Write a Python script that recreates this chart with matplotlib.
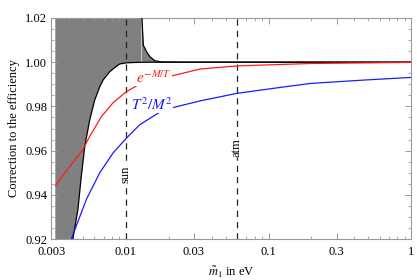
import numpy as np
import matplotlib
matplotlib.use('Agg')
import matplotlib.pyplot as plt
from matplotlib.ticker import FixedLocator, NullFormatter

plt.rcParams['font.family'] = ['Liberation Serif', 'DejaVu Serif']
plt.rcParams['mathtext.fontset'] = 'stix'

# lower boundary of the excluded (grey) region
low_x = [0.0032, 0.0042, 0.00425, 0.00461, 0.00487, 0.00515, 0.00558, 0.00605, 0.00656,
         0.00692, 0.00771, 0.0086, 0.00907, 0.0101, 0.012, 0.0128]
low_y = [0.90, 0.915, 0.920, 0.9334, 0.9484, 0.9619, 0.9739, 0.9829, 0.9889,
         0.9919, 0.9957, 0.9982, 0.9992, 0.9997, 0.9999, 0.99995]

# upper boundary of the excluded region
up_x = [0.0128, 0.01296, 0.01324, 0.01399, 0.01476, 0.016, 0.01783, 0.025, 1.0]
up_y = [1.03, 1.02, 1.0077, 1.0046, 1.0024, 1.0006, 1.0001, 1.0, 1.0]

# e^{-M/T} correction
red_x = [0.00321, 0.00403, 0.0050, 0.00558, 0.00674, 0.00814, 0.0101, 0.0125,
         0.0198, 0.0332, 0.0601, 0.198, 1.0]
red_y = [0.9443, 0.9527, 0.9605, 0.9665, 0.9754, 0.9817, 0.9867, 0.9901,
         0.9934, 0.9969, 0.9983, 0.9994, 0.9999]

# T^2/M^2 correction
blue_x = [0.0040, 0.00414, 0.00529, 0.00656, 0.00814, 0.0101, 0.0125, 0.0183,
          0.0332, 0.0601, 0.1215, 0.198, 0.465, 1.0]
blue_y = [0.915, 0.920, 0.938, 0.950, 0.959, 0.9657, 0.9717, 0.9784,
          0.9825, 0.9859, 0.9886, 0.9904, 0.9919, 0.9931]

mass_lines = [0.01, 0.06]
mass_names = ['sun', 'atm']
mass_label_y = [0.9493, 0.9614]

xticks = [0.003, 0.01, 0.03, 0.1, 0.3, 1]
xticklabels = ['0.003', '0.01', '0.03', '0.1', '0.3', '1']
yticks = [0.92, 0.94, 0.96, 0.98, 1.00, 1.02]

fig = plt.figure(figsize=(4.17, 2.8), dpi=100)
ax = fig.add_axes([0.123, 0.146, 0.863, 0.79])

ax.set_xscale('log')
ax.set_xlim(0.003, 1.0)
ax.set_ylim(0.92, 1.02)

# grey region: left of the lower boundary up to the top, then under the upper boundary
ax.fill_between(low_x, low_y, 1.03, color='#808080', lw=0, zorder=1)
ax.fill_between(up_x, 0.9995, up_y, color='#808080', lw=0, zorder=1)
ax.fill_between([0.0125, 1.0], 0.99, 0.99995, color='white', lw=0, zorder=1.5)
ax.plot(low_x + up_x[-2:], low_y + up_y[-2:], color='k', lw=0.9, zorder=3)
ax.plot(up_x, up_y, color='k', lw=0.9, zorder=3)

ax.plot(red_x, red_y, color='#ff1a1a', lw=0.9, zorder=4)
ax.plot(blue_x, blue_y, color='#1a1aff', lw=0.9, zorder=4)

for xv, name, yv in zip(mass_lines, mass_names, mass_label_y):
    ax.axvline(xv, color='#222222', lw=0.9, dashes=(5, 4), zorder=2)
    ax.text(xv, yv, name, rotation=90, ha='center', va='center', fontsize=9,
            zorder=5, bbox=dict(fc='white', ec='none', pad=0.5))

ax.text(0.0156, 0.9929, r'$e^{-M/T}$', color='#ff1a1a', fontsize=11,
        ha='center', va='center', zorder=6, bbox=dict(fc='white', ec='none', pad=0.2))
ax.text(0.0152, 0.9808, r'$T^2/M^2$', color='#1a1aff', fontsize=11,
        ha='center', va='center', zorder=6, bbox=dict(fc='white', ec='none', pad=0.2))

ax.xaxis.set_major_locator(FixedLocator(xticks))
ax.set_xticklabels(xticklabels)
minor_x = [m * 10.0 ** e for e in (-3, -2, -1) for m in range(2, 10)]
ax.xaxis.set_minor_locator(FixedLocator(minor_x))
ax.xaxis.set_minor_formatter(NullFormatter())
ax.set_yticks(yticks)
ax.set_yticklabels(['%.2f' % v for v in yticks])
ax.set_yticks(np.arange(0.92, 1.0201, 0.005), minor=True)

for sp in ax.spines.values():
    sp.set_color('#999999')
    sp.set_linewidth(0.8)
ax.tick_params(axis='both', which='both', direction='in', top=True, right=True,
               color='#999999', labelsize=9)
ax.tick_params(axis='x', which='major', pad=5)
ax.tick_params(axis='y', which='major', pad=3)
ax.tick_params(axis='both', which='major', length=4, width=0.7)
ax.tick_params(axis='both', which='minor', length=2.5, width=0.6)

ax.set_xlabel(r'$\tilde{m}_1$ in eV', fontsize=9, labelpad=5)
ax.set_ylabel('Correction to the efficiency', fontsize=9, labelpad=4)

fig.savefig('out.png', dpi=100)
